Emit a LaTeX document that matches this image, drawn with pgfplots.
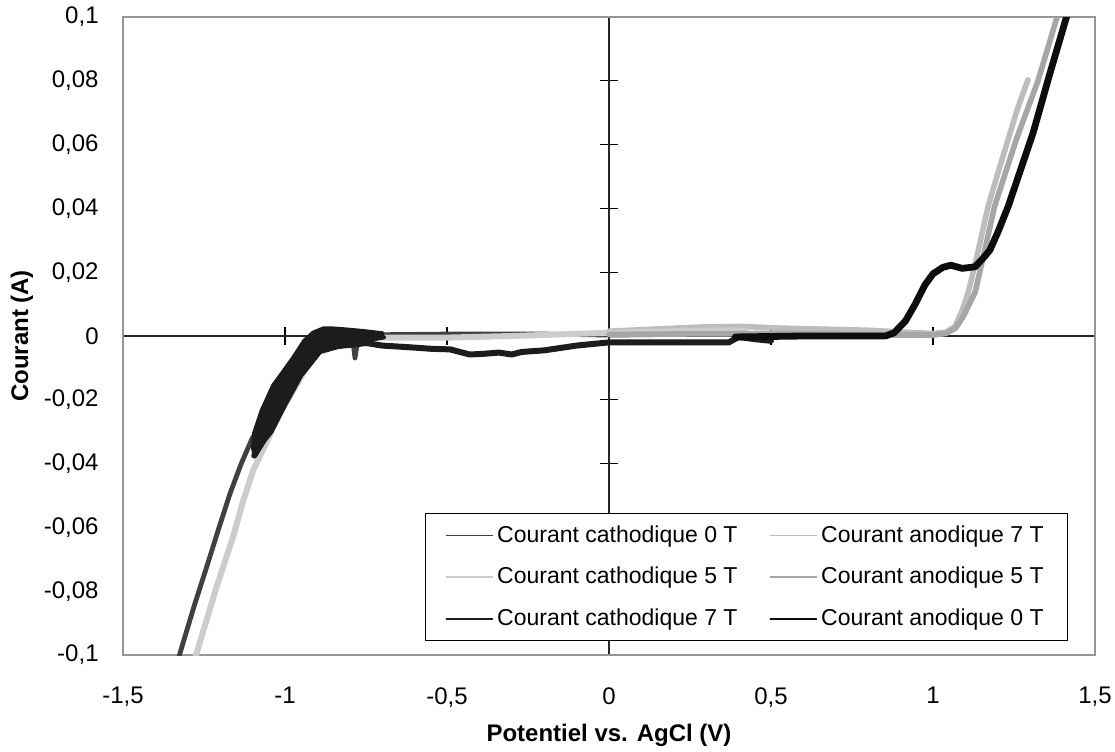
\documentclass[border=0pt]{standalone}
\usepackage{fontspec}
\setmainfont{Liberation Sans}
\usepackage{pgfplots}
\pgfplotsset{compat=1.18}
\definecolor{cZero}{HTML}{404040}
\definecolor{aSeven}{HTML}{BDBDBD}
\definecolor{cFive}{HTML}{CCCCCC}
\definecolor{aFive}{HTML}{A6A6A6}
\definecolor{cSeven}{HTML}{1C1C1C}
\definecolor{aZero}{HTML}{0D0D0D}
\definecolor{frame}{HTML}{969696}
\begin{document}
\begin{tikzpicture}
\useasboundingbox (-61.5pt,-48pt) rectangle (496pt,327.5pt);
% axis lines through the origin
\begin{axis}[scale only axis, width=486pt, height=319pt,
  xmin=-1.5, xmax=1.5, ymin=-0.1, ymax=0.1,
  axis lines=middle,
  x axis line style={-}, y axis line style={-},
  axis line style={black!85, line width=0.6pt},
  xtick={-1.5,-1,-0.5,0,0.5,1,1.5},
  ytick={-0.1,-0.08,-0.06,-0.04,-0.02,0,0.02,0.04,0.06,0.08,0.1},
  xticklabels={}, yticklabels={},
  tick align=center, major tick length=9pt,
  tick style={black, line width=0.6pt}]
\end{axis}
\begin{axis}[scale only axis, width=486pt, height=319pt,
  xmin=-1.5, xmax=1.5, ymin=-0.1, ymax=0.1,
  axis line style={draw=frame, line width=0.8pt},
  major tick length=0pt, tick style={draw=none},
  xtick={-1.5,-1,-0.5,0,0.5,1,1.5},
  ytick={-0.1,-0.08,-0.06,-0.04,-0.02,0,0.02,0.04,0.06,0.08,0.1},
  xticklabels={{-1,5},{-1},{-0,5},{0},{0,5},{1},{1,5}},
  yticklabels={{-0,1},{-0,08},{-0,06},{-0,04},{-0,02},{0},{0,02},{0,04},{0,06},{0,08},{0,1}},
  ticklabel style={font=\fontsize{12}{14}\selectfont},
  yticklabel style={anchor=east, inner sep=0pt, xshift=-12pt},
  xticklabel style={anchor=north, inner sep=0pt, yshift=-16pt},
  xlabel={Potentiel vs. AgCl (V)}, ylabel={Courant (A)},
  label style={font=\bfseries\fontsize{12}{14}\selectfont},
  xlabel style={at={(axis description cs:0.5,-0.1254)}, anchor=center},
  ylabel style={at={(axis description cs:-0.104,0.5)}, anchor=center},
  legend columns=2, legend cell align=left,
  legend image code/.code={\draw[#1, line width=0.8pt] (0pt,0pt) -- (23pt,0pt);},
  legend style={at={(0.3107,0.2226)}, anchor=north west, draw=black, line width=0.6pt,
    font=\fontsize{11.5}{13}\selectfont, inner xsep=10pt, inner ysep=4pt, row sep=7pt,
    /tikz/every even column/.append style={column sep=14pt}},
  every axis plot/.append style={line join=round, line cap=round},
]
% Courant cathodique 0 T
\addplot[cZero, line width=2.4pt] coordinates {
(0.45,0.0005) (0.2,0.0005) (0,0.0003) (-0.2,0.0006) (-0.5,0.0006) (-0.7,0.0004)
(-0.775,-0.001) (-0.784,-0.0069) (-0.79,-0.0015) (-0.84,0.0005) (-0.88,0.0) (-0.92,-0.004)
(-0.96,-0.010) (-1.0,-0.0165) (-1.04,-0.0235) (-1.07,-0.0295) (-1.10,-0.0318) (-1.135,-0.040)
(-1.17,-0.0495) (-1.205,-0.0605) (-1.242,-0.0725) (-1.28,-0.0845) (-1.324,-0.0994) (-1.33,-0.102)};
\addlegendentry{Courant cathodique 0 T}
% Courant anodique 7 T
\addplot[aSeven, line width=2.8pt] coordinates {
(0,0.0015) (0.28,0.0028) (0.41,0.003) (0.52,0.0025) (0.8,0.0018) (0.95,0.001) (1.0,0.0008)
(1.04,0.0012) (1.068,0.003) (1.09,0.008) (1.109,0.0137) (1.14,0.027) (1.170,0.0406)
(1.20,0.051) (1.232,0.0616) (1.26,0.071) (1.293,0.0803)};
\addlegendentry{Courant anodique 7 T}
% Courant cathodique 5 T
\addplot[cFive, line width=3pt] coordinates {
(0.42,0.0018) (0.2,0.0015) (0,0.001) (-0.3,0.0) (-0.5,-0.0005) (-0.7,-0.0005) (-0.8,-0.001)
(-0.86,-0.002) (-0.9,-0.005) (-0.94,-0.011) (-0.98,-0.018) (-1.026,-0.0263) (-1.06,-0.034)
(-1.098,-0.042) (-1.13,-0.052) (-1.160,-0.0629) (-1.211,-0.0786) (-1.273,-0.0995) (-1.28,-0.102)};
\addlegendentry{Courant cathodique 5 T}
% Courant anodique 5 T
\addplot[aFive, line width=2.8pt] coordinates {
(0,0.0005) (0.5,0.0008) (0.9,0.0003) (1.0,0.0003) (1.04,0.0008) (1.07,0.0025) (1.093,0.006)
(1.13,0.0137) (1.16,0.027) (1.19,0.0406) (1.257,0.0616) (1.324,0.080) (1.383,0.1) (1.39,0.102)};
\addlegendentry{Courant anodique 5 T}
% Courant cathodique 7 T
\addplot[cSeven, line width=3pt] coordinates {
(0.5,-0.0015) (0.45,-0.001) (0.4,-0.0003) (0.37,-0.002) (0.2,-0.002) (0,-0.002) (-0.1,-0.003)
(-0.2,-0.0045) (-0.27,-0.005) (-0.30,-0.0058) (-0.34,-0.0052) (-0.39,-0.0056) (-0.43,-0.0058)
(-0.49,-0.0042) (-0.55,-0.004) (-0.62,-0.0035) (-0.7,-0.003) (-0.75,-0.0022) (-0.80,-0.0028)
(-0.85,-0.0032) (-0.89,-0.004) (-0.93,-0.008) (-0.97,-0.0145) (-1.01,-0.022) (-1.05,-0.030)
(-1.08,-0.035) (-1.095,-0.0375)};
\addlegendentry{Courant cathodique 7 T}
\addplot[cSeven, fill=cSeven, line width=2.2pt, forget plot] coordinates {
(-0.70,0.0008) (-0.75,0.0014) (-0.80,0.0019) (-0.85,0.0023) (-0.882,0.0023) (-0.913,0.0010)
(-0.94,-0.0015) (-0.974,-0.0068) (-1.005,-0.0112) (-1.036,-0.0155) (-1.072,-0.0235)
(-1.095,-0.0305) (-1.098,-0.035) (-1.094,-0.0375) (-1.082,-0.035) (-1.042,-0.0300)
(-1.001,-0.0218) (-0.951,-0.0125) (-0.892,-0.0050) (-0.840,-0.0035) (-0.80,-0.0027)
(-0.748,-0.0013) (-0.695,-0.0004)};
% Courant anodique 0 T
\addplot[aZero, line width=3.4pt] coordinates {
(0.39,-0.0003) (0.6,0.0) (0.853,0.0) (0.88,0.001) (0.915,0.0047) (0.945,0.010) (0.975,0.016)
(1.0,0.0195) (1.03,0.0215) (1.055,0.0222) (1.09,0.0212) (1.13,0.0217) (1.16,0.025)
(1.176,0.027) (1.20,0.0325) (1.232,0.0406) (1.27,0.052) (1.309,0.0637) (1.36,0.082)
(1.412,0.1) (1.42,0.103)};
\addlegendentry{Courant anodique 0 T}
\end{axis}
\end{tikzpicture}
\end{document}
